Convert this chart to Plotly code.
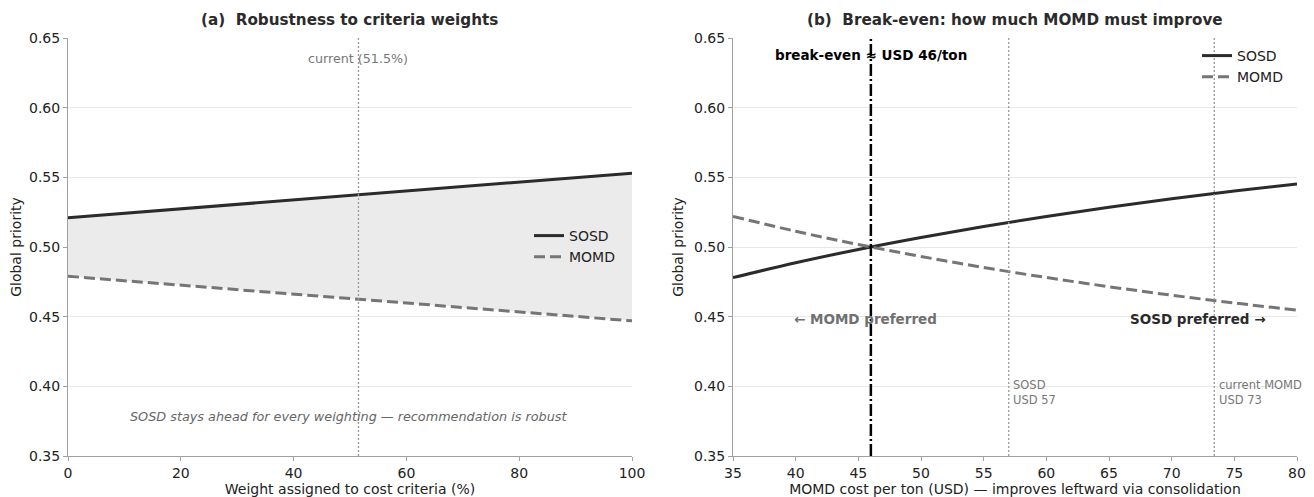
import plotly.graph_objects as go

# Panel (a): weight sensitivity
weight_pct = [0, 100]
sosd_a = [0.521, 0.553]
momd_a = [0.479, 0.447]
current_weight = 51.5

# Panel (b): break-even on MOMD cost per ton
cost_usd = [35, 40, 45, 50, 55, 60, 65, 70, 75, 80]
sosd_b = [0.4780, 0.4887, 0.4982, 0.5068, 0.5147, 0.5219, 0.5285, 0.5346, 0.5402, 0.5453]
momd_b = [0.5220, 0.5113, 0.5018, 0.4932, 0.4853, 0.4781, 0.4715, 0.4654, 0.4598, 0.4547]
break_even = 46
sosd_cost = 57
current_momd_cost = 73.4

y_ticks = [0.35, 0.40, 0.45, 0.50, 0.55, 0.60, 0.65]

FONT = "DejaVu Sans"
DARK = "#2b2b2b"
MID = "#757575"
DOT = "#9a9a9a"

# page has an 8px body margin; size the figure to fill the rest of the window
OFF = 8
W, H = 1314 - OFF, 497 - OFF


def fx(px):
    return (px - OFF) / W


def fy(py):
    return 1 - (py - OFF) / H


fig = go.Figure()

# fill between in panel (a)
fig.add_trace(go.Scatter(x=weight_pct, y=momd_a, mode="lines", line=dict(width=0),
                         showlegend=False, hoverinfo="skip", xaxis="x", yaxis="y"))
fig.add_trace(go.Scatter(x=weight_pct, y=sosd_a, mode="lines", line=dict(width=0),
                         fill="tonexty", fillcolor="#ebebeb",
                         showlegend=False, hoverinfo="skip", xaxis="x", yaxis="y"))
fig.add_trace(go.Scatter(x=weight_pct, y=sosd_a, mode="lines", name="SOSD",
                         line=dict(color=DARK, width=3), xaxis="x", yaxis="y", legend="legend"))
fig.add_trace(go.Scatter(x=weight_pct, y=momd_a, mode="lines", name="MOMD",
                         line=dict(color=MID, width=3, dash="11px,5px"), xaxis="x", yaxis="y", legend="legend"))

fig.add_trace(go.Scatter(x=cost_usd, y=sosd_b, mode="lines", name="SOSD", line_shape="spline",
                         line=dict(color=DARK, width=3), xaxis="x2", yaxis="y2", legend="legend2"))
fig.add_trace(go.Scatter(x=cost_usd, y=momd_b, mode="lines", name="MOMD", line_shape="spline",
                         line=dict(color=MID, width=3, dash="11px,5px"), xaxis="x2", yaxis="y2", legend="legend2"))

L0, L1 = fx(68), fx(632)
R0, R1 = fx(733), fx(1297)
Y0, Y1 = fy(456), fy(38)

axis_common = dict(showline=True, linecolor="#a0a0a0", linewidth=1, ticks="outside",
                   ticklen=4, tickcolor="#a0a0a0", tickfont=dict(size=14, color="#222"),
                   zeroline=False, mirror=False, automargin=False)

fig.update_layout(
    width=W, height=H,
    margin=dict(l=0, r=0, t=0, b=0, autoexpand=False),
    paper_bgcolor="white", plot_bgcolor="white",
    font=dict(family=FONT, color="#222"),
    xaxis=dict(domain=[L0, L1], range=[0, 100], tickvals=[0, 20, 40, 60, 80, 100],
               showgrid=False, anchor="y",
               title=dict(text="Weight assigned to cost criteria (%)", font=dict(size=14), standoff=3),
               **axis_common),
    yaxis=dict(domain=[Y0, Y1], range=[0.35, 0.65], tickvals=y_ticks, tickformat=".2f",
               showgrid=True, gridcolor="#e8e8e8", gridwidth=1, anchor="x",
               title=dict(text="Global priority", font=dict(size=14), standoff=7),
               **axis_common),
    xaxis2=dict(domain=[R0, R1], range=[35, 80], tickvals=list(range(35, 81, 5)),
                showgrid=False, anchor="y2",
                title=dict(text="MOMD cost per ton (USD) — improves leftward via consolidation",
                           font=dict(size=14), standoff=3),
                **axis_common),
    yaxis2=dict(domain=[Y0, Y1], range=[0.35, 0.65], tickvals=y_ticks, tickformat=".2f",
                showgrid=True, gridcolor="#e8e8e8", gridwidth=1, anchor="x2",
                title=dict(text="Global priority", font=dict(size=14), standoff=7),
                **axis_common),
    legend=dict(x=fx(620), xanchor="right", y=fy(220), yanchor="top",
                bgcolor="rgba(255,255,255,0)", font=dict(size=14, color="#222"),
                traceorder="normal", tracegroupgap=0, itemwidth=30),
    legend2=dict(x=fx(1288), xanchor="right", y=fy(40), yanchor="top",
                 bgcolor="rgba(255,255,255,0)", font=dict(size=14, color="#222"),
                 traceorder="normal", tracegroupgap=0, itemwidth=30),
)

# vertical lines
fig.add_shape(type="line", xref="x", yref="y", x0=current_weight, x1=current_weight, y0=0.35, y1=0.65,
              line=dict(color=DOT, width=1.3, dash="2px,2px"), layer="above")
fig.add_shape(type="line", xref="x2", yref="y2", x0=sosd_cost, x1=sosd_cost, y0=0.35, y1=0.65,
              line=dict(color=DOT, width=1.3, dash="2px,2px"), layer="above")
fig.add_shape(type="line", xref="x2", yref="y2", x0=current_momd_cost, x1=current_momd_cost, y0=0.35, y1=0.65,
              line=dict(color=DOT, width=1.3, dash="2px,2px"), layer="above")
fig.add_shape(type="line", xref="x2", yref="y2", x0=break_even, x1=break_even, y0=0.35, y1=0.65,
              line=dict(color="black", width=2.5, dash="12px,3px,2px,3px"), layer="above")

# titles
fig.add_annotation(text="<b>(a)  Robustness to criteria weights</b>", xref="paper", yref="paper",
                   x=(L0 + L1) / 2, y=fy(20), xanchor="center", yanchor="middle",
                   showarrow=False, font=dict(size=15.2, color="#2b2b2b"))
fig.add_annotation(text="<b>(b)  Break-even: how much MOMD must improve</b>", xref="paper", yref="paper",
                   x=(R0 + R1) / 2, y=fy(20), xanchor="center", yanchor="middle",
                   showarrow=False, font=dict(size=15.2, color="#2b2b2b"))

# panel (a) annotations
fig.add_annotation(text="current (51.5%)", xref="x", yref="y", x=current_weight, y=0.6355,
                   showarrow=False, font=dict(size=12.7, color="#777"))
fig.add_annotation(text="<i>SOSD stays ahead for every weighting — recommendation is robust</i>",
                   xref="x", yref="y", x=49.8, y=0.3785, showarrow=False,
                   font=dict(size=12.8, color="#666"))

# panel (b) annotations
fig.add_annotation(text="<b>break-even ≈ USD 46/ton</b>", xref="x2", yref="y2", x=break_even, y=0.638,
                   showarrow=False, font=dict(size=13.5, color="black"))
fig.add_annotation(text="<b>← MOMD preferred</b>", xref="x2", yref="y2", x=45.6, y=0.4485,
                   showarrow=False, font=dict(size=13.5, color="#707070"))
fig.add_annotation(text="<b>SOSD preferred →</b>", xref="x2", yref="y2", x=72.1, y=0.4485,
                   showarrow=False, font=dict(size=13.5, color="#2b2b2b"))
fig.add_annotation(text="SOSD<br>USD 57", xref="x2", yref="y2", x=sosd_cost + 0.2, y=0.3955,
                   xanchor="left", align="left", showarrow=False, font=dict(size=11.5, color="#777"))
fig.add_annotation(text="current MOMD<br>USD 73", xref="x2", yref="y2", x=current_momd_cost + 0.2, y=0.3955,
                   xanchor="left", align="left", showarrow=False, font=dict(size=11.5, color="#777"))

fig.write_html("out.html")
